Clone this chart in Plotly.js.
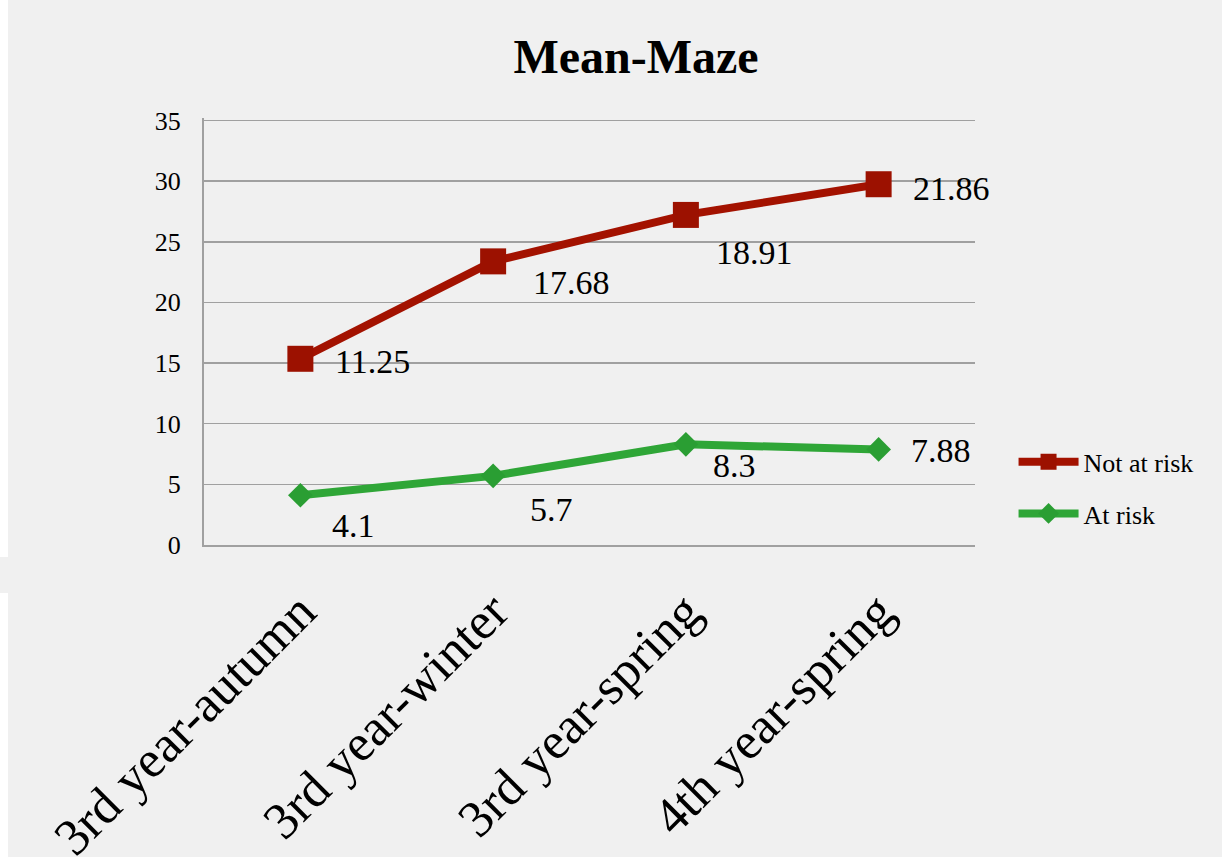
<!DOCTYPE html>
<html><head><meta charset="utf-8">
<script src="https://cdn.plot.ly/plotly-3.0.1.min.js"></script>
<style>html,body{margin:0;padding:0;background:#f0f0f0;overflow:hidden;} #chart{width:1222px;height:857px;}</style>
</head><body><div id="chart"></div>
<script>
const categories = ['3rd year-autumn', '3rd year-winter', '3rd year-spring', '4th year-spring'];
const atRisk = [4.1, 5.7, 8.3, 7.88];
const notAtRisk = [11.25, 17.68, 18.91, 21.86];
const yTickVals = [0, 5, 10, 15, 20, 25, 30, 35];
const seriesNames = ['Not at risk', 'At risk'];

const FONT = '"Liberation Serif", "Times New Roman", Times, serif';
const RED = '#a31200';
const GREEN = '#2fa637';

const traces = [
  {
    x: categories, y: atRisk, name: seriesNames[1], type: 'scatter', mode: 'lines+markers',
    stackgroup: 'one', fill: 'none', legendgroup: 'b', legendrank: 2,
    line: {color: GREEN, width: 8},
    marker: {symbol: 'diamond', size: 19, color: '#2a9e33'},
    hoverinfo: 'skip'
  },
  {
    x: categories, y: notAtRisk, name: seriesNames[0], type: 'scatter', mode: 'lines+markers',
    stackgroup: 'one', fill: 'none', legendgroup: 'a', legendrank: 1,
    line: {color: RED, width: 8},
    marker: {symbol: 'square', size: 26, color: '#9c1100'},
    hoverinfo: 'skip'
  }
];

// label offsets (styling, px)
const redOff = [[72, -3], [78, -21], [69, -38], [73, -4]];
const greenOff = [[53, -30], [58, -34], [49, -21], [62, -1]];
const annotations = [];
categories.forEach((c, i) => {
  annotations.push({x: c, y: atRisk[i], text: String(atRisk[i]), showarrow: false,
    xshift: greenOff[i][0], yshift: greenOff[i][1], font: {family: FONT, size: 34, color: '#000'}});
  annotations.push({x: c, y: atRisk[i] + notAtRisk[i], text: String(notAtRisk[i]), showarrow: false,
    xshift: redOff[i][0], yshift: redOff[i][1], font: {family: FONT, size: 34, color: '#000'}});
});

const layout = {
  width: 1222, height: 857,
  margin: {l: 204, r: 247, t: 118, b: 312, pad: 0},
  paper_bgcolor: '#f0f0f0', plot_bgcolor: '#f0f0f0',
  font: {family: FONT, color: '#000'},
  title: {text: '<b>Mean-Maze</b>', font: {family: FONT, size: 48, color: '#000'},
    xref: 'container', x: 636 / 1222, xanchor: 'center', yref: 'container', y: 1 - 56 / 857, yanchor: 'middle'},
  xaxis: {type: 'category', range: [-0.5, 3.5], showgrid: false, showline: true, linecolor: '#a0a0a0', linewidth: 2,
    ticks: '', tickangle: -45, tickfont: {family: FONT, size: 52, color: '#000'}, ticklabelstandoff: 13,
    zeroline: false, fixedrange: true},
  yaxis: {range: [0, 35.2], tickvals: yTickVals, ticktext: yTickVals.map(String), showgrid: true, gridcolor: '#a0a0a0', gridwidth: 1.6,
    showline: true, linecolor: '#a0a0a0', linewidth: 2, ticks: '', zeroline: false,
    tickfont: {family: FONT, size: 26, color: '#000'}, ticklabelstandoff: 16, fixedrange: true},
  showlegend: true,
  legend: {x: 1.05, xanchor: 'left', y: 0.25, yanchor: 'top', bgcolor: 'rgba(0,0,0,0)',
    font: {family: FONT, size: 26, color: '#000'}, tracegroupgap: 15, itemwidth: 60},
  annotations: annotations,
  shapes: [
    {type: 'rect', xref: 'paper', yref: 'paper', x0: -204 / 771, x1: -196 / 771, y0: -12 / 427, y1: 557 / 427,
      fillcolor: '#ffffff', line: {width: 0}, layer: 'below'},
    {type: 'rect', xref: 'paper', yref: 'paper', x0: -204 / 771, x1: -196 / 771, y0: -312 / 427, y1: -48 / 427,
      fillcolor: '#ffffff', line: {width: 0}, layer: 'below'}
  ]
};

Plotly.newPlot('chart', traces, layout, {displayModeBar: false, staticPlot: true});
</script>
</body></html>
